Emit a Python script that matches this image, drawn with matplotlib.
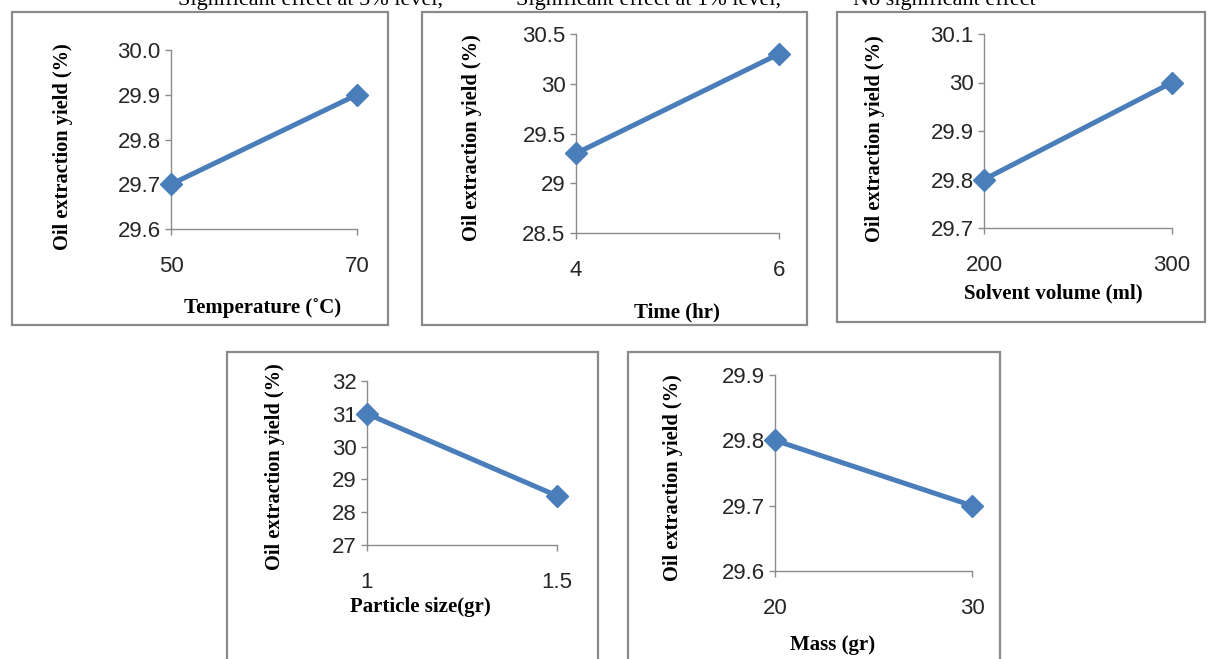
import matplotlib.pyplot as plt
from matplotlib.patches import Rectangle

W, H = 1211, 659

# data
temp_x = [50, 70]
temp_y = [29.7, 29.9]
time_x = [4, 6]
time_y = [29.3, 30.3]
solvent_x = [200, 300]
solvent_y = [29.8, 30.0]
particle_x = [1, 1.5]
particle_y = [31.0, 28.5]
mass_x = [20, 30]
mass_y = [29.8, 29.7]

temp_yticks = [29.6, 29.7, 29.8, 29.9, 30.0]
temp_ylabels = ["29.6", "29.7", "29.8", "29.9", "30.0"]
time_yticks = [28.5, 29, 29.5, 30, 30.5]
time_ylabels = ["28.5", "29", "29.5", "30", "30.5"]
solvent_yticks = [29.7, 29.8, 29.9, 30.0, 30.1]
solvent_ylabels = ["29.7", "29.8", "29.9", "30", "30.1"]
particle_yticks = [27, 28, 29, 30, 31, 32]
particle_ylabels = ["27", "28", "29", "30", "31", "32"]
mass_yticks = [29.6, 29.7, 29.8, 29.9]
mass_ylabels = ["29.6", "29.7", "29.8", "29.9"]

temp_xlabels = ["50", "70"]
time_xlabels = ["4", "6"]
solvent_xlabels = ["200", "300"]
particle_xlabels = ["1", "1.5"]
mass_xlabels = ["20", "30"]

BLUE = "#4a7ebb"
GRAY = "#8c8c8c"
SERIF = "Liberation Serif"
SANS = "Liberation Sans"

fig = plt.figure(figsize=(W / 100, H / 100), dpi=100)


def fx(x):
    return x / W


def fy(y):
    return 1 - y / H


def frame(x0, y0, x1, y1):
    fig.patches.append(Rectangle((fx(x0), fy(y1)), fx(x1) - fx(x0), fy(y0) - fy(y1),
                                 transform=fig.transFigure, fill=False,
                                 edgecolor="#8a8a8a", linewidth=1.6))


def panel(box, xs, ys, yticks, ylabels, xlabels, xlabel, xlabel_pos, ylabel_pos, tick_pad):
    left, right, top, bottom = box
    ax = fig.add_axes([fx(left), fy(bottom), fx(right) - fx(left), fy(top) - fy(bottom)])
    ax.plot(xs, ys, color=BLUE, linewidth=3.6, marker="D", markersize=11,
            markeredgecolor=BLUE, clip_on=False, zorder=3)
    ax.set_xlim(xs[0], xs[-1])
    ax.set_ylim(yticks[0], yticks[-1])
    ax.set_yticks(yticks)
    ax.set_yticklabels(ylabels)
    ax.set_xticks(xs)
    ax.set_xticklabels(xlabels)
    for s in ["top", "right"]:
        ax.spines[s].set_visible(False)
    for s in ["left", "bottom"]:
        ax.spines[s].set_color(GRAY)
        ax.spines[s].set_linewidth(1.0)
    ax.tick_params(axis="y", direction="out", length=4.5, width=1.0, color=GRAY,
                   pad=3, labelsize=16, labelcolor="#262626")
    ax.tick_params(axis="x", direction="out", length=4.5, width=1.0, color=GRAY,
                   pad=tick_pad, labelsize=16, labelcolor="#262626")
    for lab in ax.get_xticklabels() + ax.get_yticklabels():
        lab.set_fontfamily(SANS)
    ax.patch.set_alpha(0)
    fig.text(fx(xlabel_pos[0]), fy(xlabel_pos[1]), xlabel, ha="center", va="center",
             fontsize=15, fontweight="bold", family=SERIF)
    fig.text(fx(ylabel_pos[0]), fy(ylabel_pos[1]), "Oil extraction yield (%)",
             ha="center", va="center", rotation=90, fontsize=14.7, fontweight="bold",
             family=SERIF)
    return ax


frame(12, 12, 388, 325)
frame(422, 12, 807, 325)
frame(837, 12, 1205, 322)
frame(227, 352, 598, 665)
frame(628, 352, 1000, 665)

panel((171, 357, 50, 229), temp_x, temp_y, temp_yticks, temp_ylabels, temp_xlabels,
      "Temperature (˚C)", (263, 308), (63, 147), 15)
panel((576, 779, 34, 233), time_x, time_y, time_yticks, time_ylabels, time_xlabels,
      "Time (hr)", (677, 312), (472, 138), 15)
panel((984, 1172, 34, 228), solvent_x, solvent_y, solvent_yticks, solvent_ylabels,
      solvent_xlabels, "Solvent volume (ml)", (1053, 293), (875, 139), 15)
panel((367, 557, 381, 545), particle_x, particle_y, particle_yticks, particle_ylabels,
      particle_xlabels, "Particle size(gr)", (420, 607), (275, 467), 15)
panel((775, 972, 375, 571), mass_x, mass_y, mass_yticks, mass_ylabels, mass_xlabels,
      "Mass (gr)", (833, 645), (673, 478), 15)

# footnote line from the page, cut off at the top edge like in the source image
fig.text(fx(178), fy(5), "Significant effect at 5% level,", ha="left", va="baseline",
         fontsize=16, family=SERIF)
fig.text(fx(516), fy(5), "Significant effect at 1% level,", ha="left", va="baseline",
         fontsize=16, family=SERIF)
fig.text(fx(853), fy(5), "No significant effect", ha="left", va="baseline",
         fontsize=16, family=SERIF)

fig.savefig("out.png", dpi=100)
